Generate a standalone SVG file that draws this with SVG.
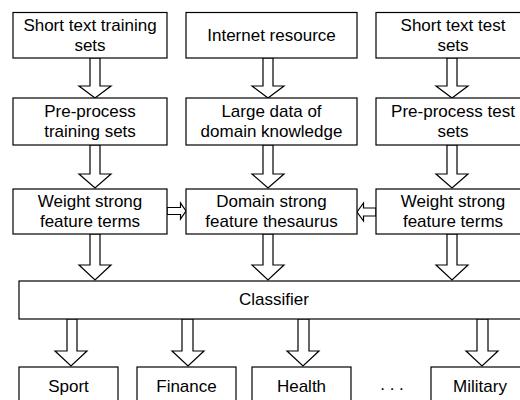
<svg xmlns="http://www.w3.org/2000/svg" width="520" height="400" viewBox="0 0 520 400">
<style>
rect{fill:#fff;stroke:#000;stroke-width:1.2}
text{font-family:"Liberation Sans",Arial,sans-serif;font-size:17px;fill:#000;text-anchor:middle}
.ar{fill:#fff;stroke:#000;stroke-width:1.2;stroke-linejoin:miter}
</style>
<rect x="0" y="0" width="520" height="400" style="stroke:none"/>
<g id="connectors">
<path class="ar" d="M90,58 V86 H79 L95,98 L111,86 H100 V58 Z"/>
<path class="ar" d="M263,58 V86 H252 L268,98 L284,86 H273 V58 Z"/>
<path class="ar" d="M447,58 V86 H436 L452,98 L468,86 H457 V58 Z"/>
<path class="ar" d="M90,145 V174 H79 L95,188 L111,174 H100 V145 Z"/>
<path class="ar" d="M263,145 V174 H252 L268,188 L284,174 H273 V145 Z"/>
<path class="ar" d="M447,145 V174 H436 L452,188 L468,174 H457 V145 Z"/>
<path class="ar" d="M90,234 V265 H79 L95,280 L111,265 H100 V234 Z"/>
<path class="ar" d="M263,234 V265 H252 L268,280 L284,265 H273 V234 Z"/>
<path class="ar" d="M447,234 V265 H436 L452,280 L468,265 H457 V234 Z"/>
<path class="ar" d="M67,319 V351 H55 L71,366 L87,351 H77 V319 Z"/>
<path class="ar" d="M182,319 V351 H172 L188,366 L204,351 H193 V319 Z"/>
<path class="ar" d="M298,319 V351 H287 L303,366 L319,351 H309 V319 Z"/>
<path class="ar" d="M477,319 V351 H466 L482,366 L498,351 H488 V319 Z"/>
<path class="ar" d="M167,207.5 H180.5 V203 L186,211 L180.5,219 V214.5 H167 Z"/>
<path class="ar" d="M376,208 H363.5 V203 L357,212 L363.5,221 V216 H376 Z"/>
</g>
<g id="n1"><rect x="13" y="12.5" width="154" height="45.5"/><text x="90" y="31">Short text training</text><text x="90" y="51">sets</text></g>
<g id="n2"><rect x="186" y="12.5" width="171" height="45.5"/><text x="271.5" y="41">Internet resource</text></g>
<g id="n3"><rect x="376" y="12.5" width="154" height="45.5"/><text x="453" y="31">Short text test</text><text x="453" y="51">sets</text></g>
<g id="n4"><rect x="13" y="98" width="154" height="47"/><text x="90" y="117">Pre-process</text><text x="90" y="137">training sets</text></g>
<g id="n5"><rect x="186" y="98" width="171" height="47"/><text x="271.5" y="117">Large data of</text><text x="271.5" y="137">domain knowledge</text></g>
<g id="n6"><rect x="376" y="98" width="154" height="47"/><text x="453" y="117">Pre-process test</text><text x="453" y="137">sets</text></g>
<g id="n7"><rect x="13" y="189" width="154" height="45"/><text x="90" y="206.5">Weight strong</text><text x="90" y="226.5">feature terms</text></g>
<g id="n8"><rect x="186" y="189" width="171" height="45"/><text x="271.5" y="206.5">Domain strong</text><text x="271.5" y="226.5">feature thesaurus</text></g>
<g id="n9"><rect x="376" y="189" width="154" height="45"/><text x="453" y="206.5">Weight strong</text><text x="453" y="226.5">feature terms</text></g>
<g id="n10"><rect x="19" y="281" width="511" height="38"/><text x="274" y="305">Classifier</text></g>
<g id="n11"><rect x="19" y="367" width="99" height="40"/><text x="68.5" y="392">Sport</text></g>
<g id="n12"><rect x="137" y="367" width="99" height="40"/><text x="186.5" y="392">Finance</text></g>
<g id="n13"><rect x="252" y="367" width="99" height="40"/><text x="301.5" y="392">Health</text></g>
<g id="n14"><text x="392" y="390">. . .</text></g>
<g id="n15"><rect x="431" y="367" width="99" height="40"/><text x="480" y="392">Military</text></g>
</svg>
